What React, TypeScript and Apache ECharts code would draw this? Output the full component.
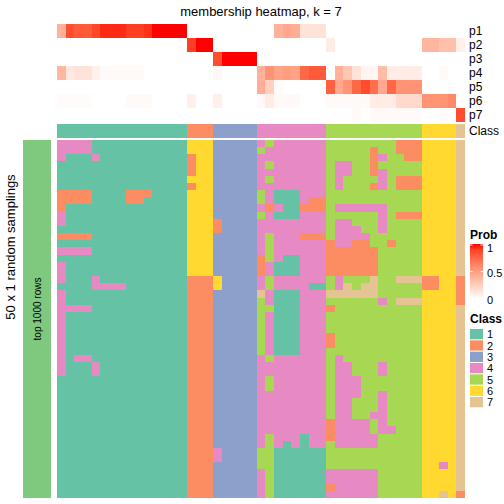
import React, { useEffect, useRef } from "react";
import * as echarts from "echarts";

const PROB_ROWS = ["p1", "p2", "p3", "p4", "p5", "p6", "p7"];
const CLASS_LABELS = ["1", "2", "3", "4", "5", "6", "7"];
const CLASS_COLORS = ["#66C2A5", "#FC8D62", "#8DA0CB", "#E78AC3", "#A6D854", "#FFD92F", "#E5C494"];
const PROB_TICKS = ["1", "0.5", "0"];

// membership probabilities, 47 samples (columns)
const p1 = [0.4, 0.85, 0.8, 0.8, 0.87, 0.95, 0.95, 0.95, 0.9, 0.9, 0.93, 1, 1, 1, 1, 0, 0, 0, 0, 0, 0, 0, 0, 0, 0, 0.4, 0.45, 0.42, 0.15, 0.15, 0.15, 0, 0, 0, 0, 0, 0, 0, 0, 0, 0, 0, 0, 0, 0, 0, 0];
const p2 = [0, 0, 0, 0, 0, 0, 0, 0, 0, 0, 0, 0, 0, 0, 0, 0.9, 1, 1, 0, 0, 0, 0, 0, 0, 0, 0, 0, 0, 0, 0, 0, 0.1, 0, 0, 0, 0, 0, 0, 0, 0, 0, 0, 0.38, 0.38, 0.33, 0.33, 0.08];
const p3 = [0, 0, 0, 0, 0, 0, 0, 0, 0, 0, 0, 0, 0, 0, 0, 0, 0, 0, 0.85, 1, 1, 1, 1, 0, 0, 0, 0, 0, 0, 0, 0, 0, 0, 0, 0, 0, 0, 0, 0, 0, 0, 0, 0, 0, 0, 0, 0];
const p4 = [0.38, 0.12, 0.15, 0.15, 0.08, 0.03, 0.03, 0.03, 0.03, 0.03, 0, 0, 0, 0, 0, 0, 0, 0, 0.04, 0, 0, 0, 0, 0.4, 0.55, 0.48, 0.5, 0.48, 0.75, 0.8, 0.8, 0, 0.4, 0.3, 0.15, 0.05, 0.05, 0.35, 0.1, 0.1, 0.1, 0.1, 0, 0, 0.03, 0, 0];
const p5 = [0, 0, 0, 0, 0, 0, 0, 0, 0, 0, 0, 0, 0, 0, 0, 0, 0, 0, 0, 0, 0, 0, 0, 0.42, 0.25, 0.03, 0, 0, 0, 0, 0, 0.78, 0.45, 0.55, 0.75, 0.85, 0.72, 0.45, 0.75, 0.55, 0.55, 0.55, 0, 0, 0, 0, 0];
const p6 = [0.02, 0.02, 0.02, 0.02, 0, 0, 0, 0, 0.03, 0.03, 0.03, 0, 0, 0, 0, 0.08, 0, 0, 0.08, 0, 0, 0, 0, 0.03, 0.1, 0.03, 0.03, 0.03, 0, 0, 0, 0.03, 0.03, 0.03, 0.03, 0.03, 0.1, 0.1, 0.1, 0.2, 0.2, 0.2, 0.55, 0.55, 0.55, 0.6, 0];
const p7 = [0, 0, 0, 0, 0, 0, 0, 0, 0, 0, 0, 0, 0, 0, 0, 0, 0, 0, 0, 0, 0, 0, 0, 0, 0, 0, 0, 0, 0, 0, 0, 0, 0, 0, 0.03, 0, 0.03, 0.03, 0.03, 0.03, 0.03, 0.03, 0, 0, 0.02, 0, 0.85];

// predicted class of each column
const sampleClass = [1, 1, 1, 1, 1, 1, 1, 1, 1, 1, 1, 1, 1, 1, 1, 2, 2, 2, 3, 3, 3, 3, 3, 4, 4, 4, 4, 4, 4, 4, 4, 5, 5, 5, 5, 5, 5, 5, 5, 5, 5, 5, 6, 6, 6, 6, 7];

// 50 random samplings: class of each column per row
const samplings = [
  "444411111111111 666 33333 45444444 55555555222 6666 7",
  "444411111111111 666 33333 54444444 55555255222 6666 7",
  "411141111111111 266 33333 44444444 55555245522 6666 7",
  "111111111111111 266 33333 45444444 54455255555 6666 7",
  "111111111111111 266 33333 44444444 54455245555 6666 7",
  "111111111111111 666 33333 45444444 54555545222 6666 7",
  "111111111111111 266 33333 44444444 54555245222 6666 7",
  "222211112221111 666 33333 54111444 55555555555 6666 7",
  "222211112211111 666 33333 54111422 55555555555 6666 7",
  "211111111111111 666 33333 42411222 54444445555 6666 7",
  "411111111111111 666 33333 54111444 55555545222 6666 7",
  "411111111111111 666 23333 44444444 54455545555 6666 7",
  "111111111111111 666 23333 44444444 54445545555 6666 7",
  "222211111111111 666 33333 45444222 54444555555 6666 7",
  "111111111111111 666 33333 45444444 24422552555 6666 7",
  "444411111111111 666 33333 45444444 22222255555 6666 7",
  "111111111111111 666 33333 25411444 22222255555 6666 7",
  "411111111111111 666 33333 24111444 22222255555 6666 7",
  "411111111111111 666 33333 24111444 22222255555 6666 7",
  "411141111111111 222 63333 45444444 54555755777 2266 2",
  "111144441111111 222 63333 45444411 54757755555 2266 2",
  "411111111111111 222 33333 74111444 77777755555 6666 2",
  "411111111111111 222 33333 54111444 55555545777 6666 2",
  "444411111111111 222 33333 55111444 25555555555 6666 7",
  "411111111111111 222 33333 54111444 55555555555 6666 7",
  "411111111111111 222 33333 54111444 55555555555 6666 7",
  "411111111111111 222 33333 54111444 55555555555 6666 7",
  "411111111111111 222 33333 54111444 25555555555 6666 7",
  "411111111111111 222 33333 54111444 25555555555 6666 7",
  "411111111111111 222 33333 54111444 55555555555 6666 7",
  "414411111111111 222 33333 45444444 54555555555 6666 7",
  "411141111111111 222 33333 44444444 54455545555 6666 7",
  "411141111111111 222 33333 44444444 54455545555 6666 7",
  "111111111111111 222 33333 45444444 54445555555 6666 7",
  "111111111111111 222 33333 45444444 54445555555 6666 7",
  "111111111111111 222 33333 44444444 54445545555 6666 7",
  "111111111111111 222 33333 44444444 54455545555 6666 7",
  "111111111111111 222 33333 44444444 54455545555 6666 7",
  "111111111111111 222 33333 44444444 54455445555 6666 7",
  "111111111111111 222 33333 44444444 24444545555 6666 7",
  "111111111111111 222 33333 44444444 24444544555 6666 7",
  "111111111111111 222 33333 45444144 24444455555 6666 7",
  "111111111111111 222 33333 45414144 54444455555 6666 7",
  "111111111111111 222 43333 55111111 55555555555 6666 7",
  "111111111111111 222 43333 55111111 55555555555 6666 7",
  "111111111111111 222 33333 55111111 55555555555 6646 7",
  "111111111111111 222 33333 45111111 44444455555 6666 7",
  "111111111111111 222 33333 45111111 44444455555 6666 7",
  "111111111111111 222 33333 45111111 24444455555 6666 7",
  "111111111111111 222 33333 45111111 44444455555 6676 2",
];

// white -> red interpolation in CIE LAB (like colorRamp2)
function lab2rgb(L: number, a: number, b: number): string {
  const fy = (L + 16) / 116, fx = fy + a / 500, fz = fy - b / 200;
  const f = (t: number) => (t ** 3 > 0.008856 ? t ** 3 : (t - 16 / 116) / 7.787);
  const X = 0.95047 * f(fx), Y = f(fy), Z = 1.08883 * f(fz);
  const lin = [
    3.2406 * X - 1.5372 * Y - 0.4986 * Z,
    -0.9689 * X + 1.8758 * Y + 0.0415 * Z,
    0.0557 * X - 0.204 * Y + 1.057 * Z,
  ];
  const c = lin.map((v) => {
    const s = v <= 0.0031308 ? 12.92 * v : 1.055 * Math.pow(Math.max(v, 0), 1 / 2.4) - 0.055;
    return Math.round(Math.min(1, Math.max(0, s)) * 255);
  });
  return `rgb(${c[0]},${c[1]},${c[2]})`;
}
function probColor(t: number): string {
  return lab2rgb(100 + (53.24 - 100) * t, 80.09 * t, 67.2 * t);
}

const FONT = "'Liberation Sans', Arial, Helvetica, sans-serif";

export default function App() {
  const ref = useRef<HTMLDivElement>(null);
  useEffect(() => {
    if (!ref.current) return;
    const chart = echarts.init(ref.current, null, { renderer: "svg" });
    const nCol = sampleClass.length;
    const cols = Array.from({ length: nCol }, (_, i) => String(i));
    const rows = samplings.map((_, i) => String(i));
    const probs = [p1, p2, p3, p4, p5, p6, p7];

    const probData: number[][] = [];
    probs.forEach((arr, r) => arr.forEach((v, c) => probData.push([c, r, v])));
    const classData = sampleClass.map((v, c) => [c, 0, v]);
    const sampData: number[][] = [];
    samplings.forEach((s, r) => {
      s.replace(/ /g, "").split("").forEach((ch, c) => sampData.push([c, r, Number(ch)]));
    });

    const cellRenderer = (colorOf: (v: number) => string) => (params: any, api: any) => {
      const c = api.coord([api.value(0), api.value(1)]);
      const sz = api.size([1, 1]);
      const x0 = Math.round(c[0] - sz[0] / 2);
      const x1 = Math.round(c[0] + sz[0] / 2);
      const y0 = Math.round(c[1] - sz[1] / 2);
      const y1 = Math.round(c[1] + sz[1] / 2);
      return {
        type: "rect",
        shape: { x: x0, y: y0, width: x1 - x0, height: y1 - y0 },
        style: { fill: colorOf(api.value(2)), stroke: null },
      };
    };

    const gradStops = [];
    for (let i = 0; i <= 10; i++) {
      gradStops.push({ offset: i / 10, color: probColor(1 - i / 10) });
    }

    const legendX = 470;
    const graphic: any[] = [
      {
        type: "text",
        x: 261,
        y: 11,
        style: { text: "membership heatmap, k = 7", font: `13px ${FONT}`, fill: "#000", textAlign: "center", textVerticalAlign: "middle" },
      },
      { type: "rect", shape: { x: 23, y: 140, width: 28, height: 358 }, style: { fill: "#7FC97F" } },
      {
        type: "text",
        x: 37,
        y: 309,
        rotation: Math.PI / 2,
        style: { text: "top 1000 rows", font: `10px ${FONT}`, fill: "#000", textAlign: "center", textVerticalAlign: "middle" },
      },
      {
        type: "text",
        x: 10,
        y: 247,
        rotation: Math.PI / 2,
        style: { text: "50 x 1 random samplings", font: `13px ${FONT}`, fill: "#000", textAlign: "center", textVerticalAlign: "middle" },
      },
      {
        type: "text",
        x: legendX,
        y: 235,
        style: { text: "Prob", font: `bold 12px ${FONT}`, fill: "#000", textVerticalAlign: "middle" },
      },
      {
        type: "rect",
        shape: { x: legendX, y: 244, width: 13, height: 55 },
        style: { fill: new echarts.graphic.LinearGradient(0, 0, 0, 1, gradStops) },
      },
    ];
    const tickYs = [245, 271.5, 298.5];
    const labelYs = [247.5, 273, 299.5];
    PROB_TICKS.forEach((t, i) => {
      graphic.push({
        type: "text",
        x: legendX + 17,
        y: labelYs[i],
        style: { text: t, font: `11px ${FONT}`, fill: "#000", textVerticalAlign: "middle" },
      });
      if (i < 2) {
        graphic.push({ type: "line", shape: { x1: legendX, y1: tickYs[i], x2: legendX + 2.5, y2: tickYs[i] }, style: { stroke: "#fff", lineWidth: 1 } });
        graphic.push({ type: "line", shape: { x1: legendX + 10.5, y1: tickYs[i], x2: legendX + 13, y2: tickYs[i] }, style: { stroke: "#fff", lineWidth: 1 } });
      }
    });
    graphic.push({
      type: "text",
      x: legendX,
      y: 319,
      style: { text: "Class", font: `bold 12px ${FONT}`, fill: "#000", textVerticalAlign: "middle" },
    });
    CLASS_LABELS.forEach((lab, i) => {
      const y = 329 + i * 11.33;
      graphic.push({ type: "rect", shape: { x: legendX, y, width: 13, height: 10.3 }, style: { fill: CLASS_COLORS[i] } });
      graphic.push({
        type: "text",
        x: legendX + 17,
        y: y + 5.3,
        style: { text: lab, font: `11px ${FONT}`, fill: "#000", textVerticalAlign: "middle" },
      });
    });

    const hiddenAxisParts = { axisLine: { show: false }, axisTick: { show: false }, splitLine: { show: false } };
    chart.setOption({
      animation: false,
      backgroundColor: "#fff",
      grid: [
        { left: 57, top: 24, width: 408, height: 98 },
        { left: 57, top: 124, width: 408, height: 14 },
        { left: 57, top: 140, width: 408, height: 358 },
      ],
      xAxis: [0, 1, 2].map((g) => ({ type: "category", gridIndex: g, data: cols, show: false, boundaryGap: true })),
      yAxis: [
        {
          type: "category",
          gridIndex: 0,
          data: PROB_ROWS,
          inverse: true,
          position: "right",
          ...hiddenAxisParts,
          axisLabel: { interval: 0, margin: 4, fontSize: 12, color: "#000", fontFamily: FONT },
        },
        {
          type: "category",
          gridIndex: 1,
          data: ["Class"],
          position: "right",
          ...hiddenAxisParts,
          axisLabel: { interval: 0, margin: 4, fontSize: 12, color: "#000", fontFamily: FONT },
        },
        { type: "category", gridIndex: 2, data: rows, inverse: true, show: false },
      ],
      series: [
        {
          type: "custom",
          xAxisIndex: 0,
          yAxisIndex: 0,
          data: probData,
          encode: { x: 0, y: 1 },
          renderItem: cellRenderer((v) => probColor(v)),
        },
        {
          type: "custom",
          xAxisIndex: 1,
          yAxisIndex: 1,
          data: classData,
          encode: { x: 0, y: 1 },
          renderItem: cellRenderer((v) => CLASS_COLORS[v - 1]),
        },
        {
          type: "custom",
          xAxisIndex: 2,
          yAxisIndex: 2,
          data: sampData,
          encode: { x: 0, y: 1 },
          renderItem: cellRenderer((v) => CLASS_COLORS[v - 1]),
        },
      ],
      graphic,
    });
    return () => chart.dispose();
  }, []);
  return <div ref={ref} style={{ position: "fixed", left: 0, top: 0, width: 504, height: 504, background: "#fff" }} />;
}
